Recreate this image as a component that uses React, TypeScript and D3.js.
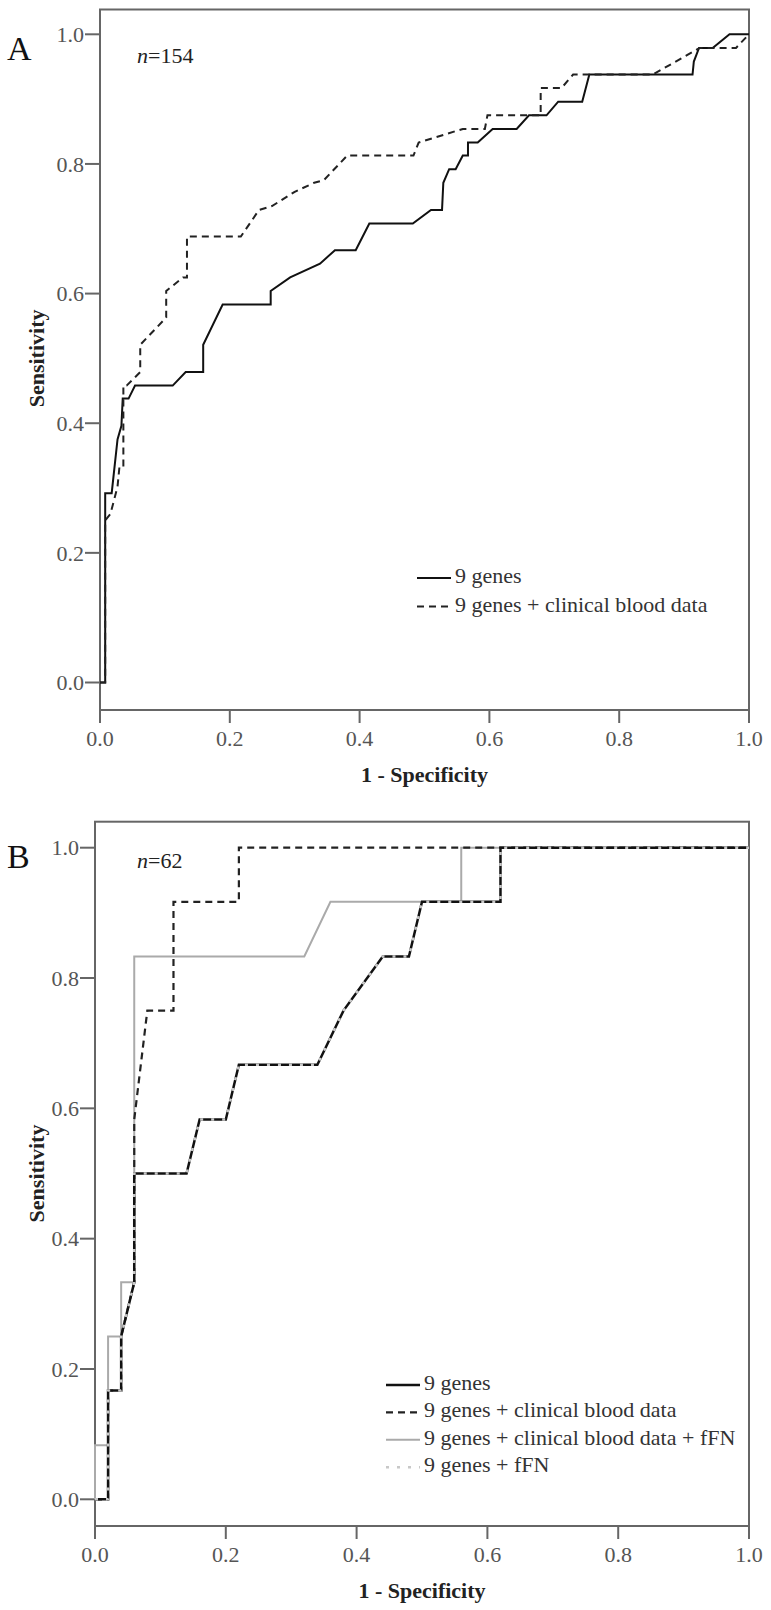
import React from "react";
import * as d3 from "d3";

type Pt = [number, number];

// ---------- Panel A data (1 - specificity, sensitivity) ----------
const genesA: Pt[] = [
  [0, 0], [0.008, 0], [0.008, 0.292], [0.018, 0.292], [0.027, 0.375], [0.033, 0.396],
  [0.035, 0.438], [0.044, 0.438], [0.054, 0.458], [0.112, 0.458], [0.132, 0.479],
  [0.159, 0.479], [0.159, 0.521], [0.189, 0.583], [0.263, 0.583], [0.263, 0.604],
  [0.293, 0.625], [0.339, 0.646], [0.362, 0.667], [0.394, 0.667], [0.415, 0.708],
  [0.482, 0.708], [0.51, 0.729], [0.527, 0.729], [0.529, 0.771], [0.538, 0.792],
  [0.548, 0.792], [0.559, 0.813], [0.567, 0.813], [0.567, 0.833], [0.582, 0.833],
  [0.605, 0.854], [0.642, 0.854], [0.661, 0.875], [0.688, 0.875], [0.706, 0.896],
  [0.743, 0.896], [0.754, 0.938], [0.913, 0.938], [0.915, 0.958], [0.923, 0.979],
  [0.944, 0.979], [0.97, 1.0], [1, 1],
];
const genesBloodA: Pt[] = [
  [0, 0], [0.008, 0], [0.008, 0.25], [0.016, 0.26], [0.021, 0.279], [0.027, 0.302],
  [0.03, 0.333], [0.036, 0.333], [0.036, 0.458], [0.041, 0.458], [0.062, 0.479],
  [0.062, 0.521], [0.102, 0.563], [0.102, 0.604], [0.128, 0.625], [0.134, 0.625],
  [0.134, 0.688], [0.217, 0.688], [0.245, 0.729], [0.265, 0.735], [0.3, 0.757],
  [0.33, 0.771], [0.345, 0.775], [0.381, 0.813], [0.483, 0.813], [0.491, 0.833],
  [0.533, 0.846], [0.559, 0.854], [0.593, 0.854], [0.597, 0.875], [0.679, 0.875],
  [0.679, 0.917], [0.711, 0.917], [0.729, 0.938], [0.852, 0.938], [0.924, 0.979],
  [0.98, 0.979], [1, 1],
];

// ---------- Panel B data ----------
const genesB: Pt[] = [
  [0, 0], [0.02, 0], [0.02, 0.167], [0.04, 0.167], [0.04, 0.25], [0.06, 0.333],
  [0.06, 0.5], [0.14, 0.5], [0.16, 0.583], [0.2, 0.583], [0.22, 0.667], [0.34, 0.667],
  [0.38, 0.75], [0.44, 0.833], [0.48, 0.833], [0.5, 0.917], [0.62, 0.917], [0.62, 1],
  [1, 1],
];
const genesBloodB: Pt[] = [
  [0, 0], [0.02, 0], [0.02, 0.167], [0.04, 0.167], [0.04, 0.25], [0.06, 0.333],
  [0.06, 0.583], [0.08, 0.75], [0.12, 0.75], [0.12, 0.917], [0.22, 0.917], [0.22, 1],
  [1, 1],
];
const genesBloodFfnB: Pt[] = [
  [0, 0], [0, 0.083], [0.02, 0.083], [0.02, 0.25], [0.04, 0.25], [0.04, 0.333],
  [0.06, 0.333], [0.06, 0.833], [0.32, 0.833], [0.36, 0.917], [0.56, 0.917],
  [0.56, 1], [1, 1],
];
const genesFfnB: Pt[] = [
  [0, 0], [0.02, 0], [0.02, 0.167], [0.04, 0.167], [0.04, 0.25], [0.06, 0.333],
  [0.06, 0.5], [0.14, 0.5], [0.16, 0.583], [0.2, 0.583], [0.22, 0.667], [0.34, 0.667],
  [0.38, 0.75], [0.44, 0.833], [0.48, 0.833], [0.5, 0.917], [0.62, 0.917], [0.62, 1],
  [1, 1],
];

const tickValues = [0, 0.2, 0.4, 0.6, 0.8, 1.0];
const legendA = ["9 genes", "9 genes + clinical blood data"];
const legendB = [
  "9 genes",
  "9 genes + clinical blood data",
  "9 genes + clinical blood data + fFN",
  "9 genes + fFN",
];

type Style = { stroke: string; width: number; dash?: string };
type Series = { data: Pt[]; styles: Style[] };

const FONT = "Liberation Serif, Times New Roman, Times, serif";
const AXIS = "#666";

function Panel(props: {
  letter: string;
  letterY: number;
  nLabel: string;
  nY: number;
  x0: number;
  x1: number;
  y0: number;
  y1: number;
  frameTop: number;
  frameBottom: number;
  series: Series[];
  legend: { label: string; style: Style[] }[];
  legendX: number;
  legendY: number;
  legendStep: number;
}) {
  const { x0, x1, y0, y1, frameTop, frameBottom } = props;
  const x = d3.scaleLinear().domain([0, 1]).range([x0, x1]);
  const y = d3.scaleLinear().domain([0, 1]).range([y0, y1]);
  const line = d3
    .line<Pt>()
    .x((d) => x(d[0]))
    .y((d) => y(d[1]));
  const fmt = d3.format(".1f");
  const cx = (x0 + x1) / 2;
  const cy = (y0 + y1) / 2;
  return (
    <g>
      <rect
        x={x0}
        y={frameTop}
        width={x1 - x0}
        height={frameBottom - frameTop}
        fill="none"
        stroke={AXIS}
        strokeWidth={2}
      />
      {tickValues.map((t) => (
        <g key={"y" + t}>
          <line x1={x0 - 15} x2={x0} y1={y(t)} y2={y(t)} stroke={AXIS} strokeWidth={2} />
          <text
            x={x0 - 16}
            y={y(t)}
            dy="0.35em"
            textAnchor="end"
            fontFamily={FONT}
            fontSize={22}
            fill="#555"
          >
            {fmt(t)}
          </text>
        </g>
      ))}
      {tickValues.map((t) => (
        <g key={"x" + t}>
          <line x1={x(t)} x2={x(t)} y1={frameBottom} y2={frameBottom + 13} stroke={AXIS} strokeWidth={2} />
          <text
            x={x(t)}
            y={frameBottom + 36}
            textAnchor="middle"
            fontFamily={FONT}
            fontSize={22}
            fill="#555"
          >
            {fmt(t)}
          </text>
        </g>
      ))}
      <text
        x={cx}
        y={frameBottom + 72}
        textAnchor="middle"
        fontFamily={FONT}
        fontSize={22}
        fontWeight="bold"
        fill="#222"
      >
        1 - Specificity
      </text>
      <text
        transform={`translate(44,${cy}) rotate(-90)`}
        textAnchor="middle"
        fontFamily={FONT}
        fontSize={22}
        fontWeight="bold"
        fill="#222"
      >
        Sensitivity
      </text>
      <text x={7} y={props.letterY} fontFamily={FONT} fontSize={34} fill="#111">
        {props.letter}
      </text>
      <text x={137} y={props.nY} fontFamily={FONT} fontSize={22} fill="#222">
        <tspan fontStyle="italic">n</tspan>
        {"=" + props.nLabel}
      </text>
      {props.series.map((s, i) =>
        s.styles.map((st, j) => (
          <path
            key={i + "-" + j}
            d={line(s.data) || ""}
            fill="none"
            stroke={st.stroke}
            strokeWidth={st.width}
            strokeDasharray={st.dash}
            strokeLinejoin="miter"
          />
        ))
      )}
      {props.legend.map((l, i) => {
        const ly = props.legendY + i * props.legendStep;
        return (
          <g key={"l" + i}>
            {l.style.map((st, j) => (
              <line
                key={j}
                x1={props.legendX}
                x2={props.legendX + 34}
                y1={ly - 5}
                y2={ly - 5}
                stroke={st.stroke}
                strokeWidth={st.width}
                strokeDasharray={st.dash}
              />
            ))}
            <text x={props.legendX + 38} y={ly} fontFamily={FONT} fontSize={22} fill="#333">
              {l.label}
            </text>
          </g>
        );
      })}
    </g>
  );
}

export default function App() {
  const solidA: Style = { stroke: "#111", width: 2 };
  const dashA: Style = { stroke: "#222", width: 2, dash: "7,5" };
  const solidB: Style = { stroke: "#111", width: 2.5 };
  const dashB: Style = { stroke: "#222", width: 2.2, dash: "7,5" };
  const greyB: Style = { stroke: "#aaa", width: 2 };
  const dotB: Style = { stroke: "#c8c8c8", width: 2.5, dash: "3,8" };
  return (
    <svg
      width={771}
      height={1610}
      style={{ position: "absolute", left: 0, top: 0, display: "block", background: "#fff" }}
    >
      <rect width={771} height={1610} fill="#fff" />
      <Panel
        letter="A"
        letterY={59.5}
        nLabel="154"
        nY={63}
        x0={100}
        x1={749}
        y0={682.5}
        y1={34.3}
        frameTop={9.5}
        frameBottom={710}
        series={[
          { data: genesA, styles: [solidA] },
          { data: genesBloodA, styles: [dashA] },
        ]}
        legend={[
          { label: legendA[0], style: [solidA] },
          { label: legendA[1], style: [dashA] },
        ]}
        legendX={417}
        legendY={583}
        legendStep={28.5}
      />
      <Panel
        letter="B"
        letterY={868}
        nLabel="62"
        nY={868}
        x0={95}
        x1={749}
        y0={1499.3}
        y1={847.7}
        frameTop={821.7}
        frameBottom={1526}
        series={[
          { data: genesBloodFfnB, styles: [greyB] },
          { data: genesBloodB, styles: [dashB] },
          { data: genesB, styles: [solidB] },
          { data: genesFfnB, styles: [dotB] },
        ]}
        legend={[
          { label: legendB[0], style: [solidB] },
          { label: legendB[1], style: [dashB] },
          { label: legendB[2], style: [greyB] },
          { label: legendB[3], style: [dotB] },
        ]}
        legendX={386}
        legendY={1390}
        legendStep={27.4}
      />
    </svg>
  );
}
